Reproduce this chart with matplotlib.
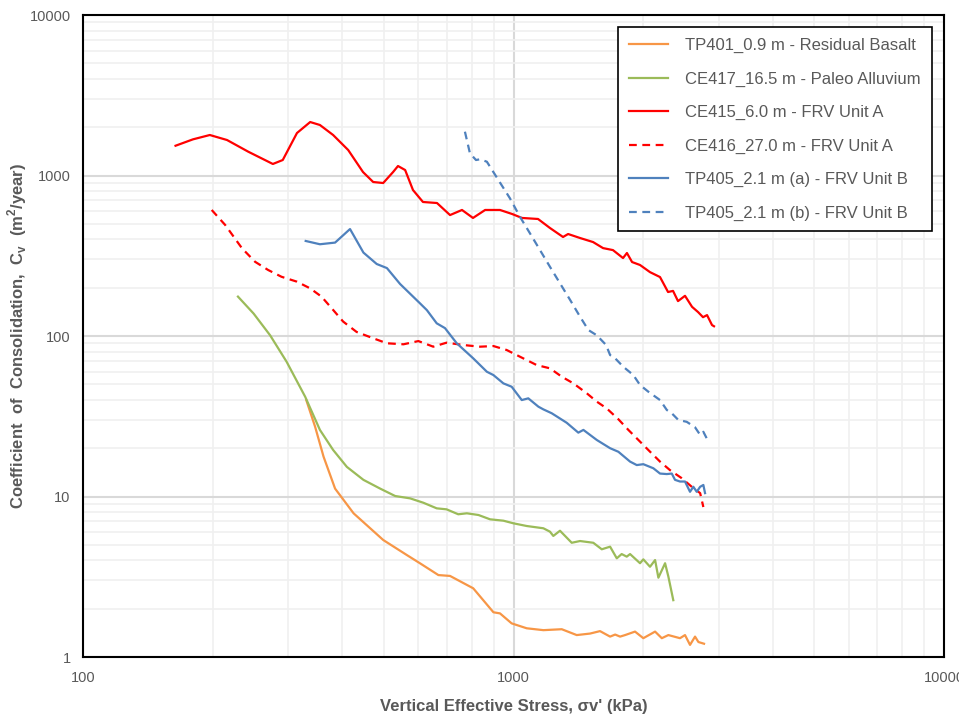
import matplotlib
matplotlib.use("Agg")
import matplotlib.pyplot as plt
from matplotlib.ticker import FixedLocator, NullFormatter, LogLocator

# TP401_0.9 m - Residual Basalt
tp401_x = [330, 346, 362, 385, 425, 498, 565, 606, 669, 712, 806, 898, 930, 990, 1073,
           1173, 1294, 1402, 1506, 1588, 1676, 1722, 1768, 1816, 1915, 2002, 2132, 2210,
           2289, 2436, 2502, 2570, 2640, 2688, 2770]
tp401_y = [39.9, 27.2, 17.7, 11.2, 7.86, 5.36, 4.32, 3.84, 3.24, 3.20, 2.68, 1.90, 1.87,
           1.62, 1.51, 1.47, 1.49, 1.37, 1.40, 1.45, 1.34, 1.38, 1.34, 1.37, 1.44, 1.31,
           1.44, 1.31, 1.37, 1.31, 1.37, 1.19, 1.34, 1.24, 1.21]

# CE417_16.5 m - Paleo Alluvium
ce417_x = [229, 249, 272, 297, 328, 355, 381, 410, 448, 490, 531, 575, 617, 663, 699,
           744, 779, 829, 882, 947, 999, 1073, 1173, 1215, 1237, 1282, 1365, 1427, 1532,
           1603, 1676, 1737, 1783, 1832, 1865, 1967, 2002, 2075, 2132, 2170, 2249, 2289, 2350]
ce417_y = [176, 138, 101, 69.2, 41.9, 26.0, 19.5, 15.3, 12.7, 11.2, 10.07, 9.74, 9.15,
           8.44, 8.32, 7.75, 7.86, 7.67, 7.21, 7.07, 6.81, 6.55, 6.34, 6.04, 5.68, 6.12,
           5.15, 5.28, 5.15, 4.69, 4.87, 4.12, 4.38, 4.22, 4.38, 3.84, 4.06, 3.65, 4.02,
           3.12, 3.84, 3.17, 2.26]

# CE415_6.0 m - FRV Unit A
ce415_x = [164, 180, 197, 216, 242, 276, 291, 314, 337, 355, 381, 413, 447, 472, 498, 525,
           539, 560, 584, 616, 664, 712, 759, 805, 859, 930, 992, 1046, 1140, 1215, 1303,
           1339, 1427, 1530, 1614, 1702, 1796, 1834, 1885, 1967, 2075, 2189, 2285, 2347,
           2410, 2502, 2598, 2683, 2755, 2815, 2891, 2922]
ce415_y = [1533, 1680, 1788, 1664, 1407, 1180, 1249, 1840, 2154, 2064, 1788, 1441, 1051, 911,
           898, 1051, 1146, 1082, 812, 684, 674, 567, 610, 544, 610, 610, 576, 544, 536,
           471, 414, 432, 408, 385, 353, 343, 306, 329, 289, 277, 250, 233, 188, 191, 165,
           178, 152, 141, 131, 135, 117, 115]

# CE416_27.0 m - FRV Unit A
ce416_x = [199, 214, 234, 251, 269, 289, 314, 337, 358, 378, 402, 432, 472, 508, 555,
           601, 651, 699, 764, 836, 898, 964, 1035, 1132, 1215, 1294, 1377, 1479, 1561,
           1646, 1752, 1848, 1950, 2056, 2189, 2309, 2459, 2594, 2713, 2760]
ce416_y = [610, 491, 352, 290, 258, 234, 218, 198, 176, 149, 123, 106, 96.8, 90.1, 88.8,
           93.0, 85.8, 90.9, 87.9, 85.8, 86.6, 81.8, 74.3, 65.9, 62.9, 55.8, 50.7, 44.0,
           39.0, 35.4, 30.3, 26.0, 22.5, 19.5, 16.5, 14.6, 13.0, 11.5, 10.5, 8.6]

# TP405_2.1 m (a) - FRV Unit B
tp405a_x = [329, 355, 385, 417, 448, 481, 508, 545, 606, 629, 663, 693, 738, 806, 867,
            898, 947, 990, 1045, 1082, 1142, 1173, 1227, 1329, 1414, 1453, 1561, 1676,
            1752, 1865, 1933, 2002, 2112, 2189, 2270, 2331, 2372, 2436, 2502, 2570, 2616,
            2664, 2713, 2760, 2785]
tp405a_y = [391, 373, 382, 464, 331, 281, 265, 211, 160, 145, 120, 112, 90.1, 72.6, 59.9,
            57.1, 50.7, 48.3, 39.9, 40.9, 36.3, 34.9, 33.0, 28.8, 25.0, 26.0, 22.5, 20.0,
            19.0, 16.5, 15.7, 15.9, 15.0, 13.9, 13.8, 13.9, 12.7, 12.4, 12.4, 10.7, 11.5,
            10.7, 11.5, 11.8, 10.5]

# TP405_2.1 m (b) - FRV Unit B
tp405b_x = [771, 792, 818, 836, 867, 922, 981, 1035, 1092, 1152, 1215, 1282, 1353, 1427,
            1492, 1561, 1640, 1676, 1722, 1799, 1898, 1967, 2056, 2189, 2270, 2331, 2414,
            2525, 2640, 2713, 2760, 2811]
tp405b_y = [1875, 1375, 1249, 1262, 1219, 938, 721, 553, 436, 343, 270, 213, 168, 132,
            109, 101, 88, 76.1, 72.6, 64.3, 57.1, 49.5, 45.0, 39.9, 34.6, 33.0, 30.0, 29.2,
            27.0, 24.2, 25.3, 23.0]

labels = ["TP401_0.9 m - Residual Basalt", "CE417_16.5 m - Paleo Alluvium",
          "CE415_6.0 m - FRV Unit A", "CE416_27.0 m - FRV Unit A",
          "TP405_2.1 m (a) - FRV Unit B", "TP405_2.1 m (b) - FRV Unit B"]

plt.rcParams['font.family'] = ['Liberation Sans', 'DejaVu Sans']
plt.rcParams['mathtext.fontset'] = 'custom'
plt.rcParams['mathtext.rm'] = 'Liberation Sans'
plt.rcParams['mathtext.bf'] = 'Liberation Sans:bold'

grey = '#595959'

fig = plt.figure(figsize=(9.59, 7.15), dpi=100)
ax = fig.add_axes([0.0866, 0.0811, 0.8978, 0.8979])

lw = 1.6
dash = (0, (3.5, 2.5))
ax.plot(tp401_x, tp401_y, color='#F79646', lw=lw, label=labels[0])
ax.plot(ce417_x, ce417_y, color='#9BBB59', lw=lw, label=labels[1])
ax.plot(ce415_x, ce415_y, color='#FF0000', lw=lw, label=labels[2])
ax.plot(ce416_x, ce416_y, color='#FF0000', lw=lw, ls=dash, label=labels[3])
ax.plot(tp405a_x, tp405a_y, color='#4F81BD', lw=lw, label=labels[4])
ax.plot(tp405b_x, tp405b_y, color='#4F81BD', lw=lw, ls=dash, label=labels[5])

ax.set_xscale('log')
ax.set_yscale('log')
ax.set_xlim(100, 10000)
ax.set_ylim(1, 10000)

ax.xaxis.set_major_locator(FixedLocator([100, 1000, 10000]))
ax.yaxis.set_major_locator(FixedLocator([1, 10, 100, 1000, 10000]))
ax.set_xticklabels(['100', '1000', '10000'])
ax.set_yticklabels(['1', '10', '100', '1000', '10000'])
ax.xaxis.set_minor_locator(LogLocator(base=10, subs=range(2, 10)))
ax.yaxis.set_minor_locator(LogLocator(base=10, subs=range(2, 10)))
ax.xaxis.set_minor_formatter(NullFormatter())
ax.yaxis.set_minor_formatter(NullFormatter())

ax.grid(True, which='major', color='#D9D9D9', lw=1.5, zorder=0)
ax.grid(True, which='minor', color='#F0F0F0', lw=1.2, zorder=0)
ax.set_axisbelow(True)

ax.tick_params(which='both', length=0, labelsize=10.5, labelcolor=grey)
ax.tick_params(axis='x', pad=10)
ax.tick_params(axis='y', pad=9)

for s in ax.spines.values():
    s.set_color('black')
    s.set_linewidth(1.5)

ax.set_xlabel("Vertical Effective Stress, \u03c3v' (kPa)", fontsize=12, fontweight='bold',
              color=grey, labelpad=10)
ax.set_ylabel(r"Coefficient  of  Consolidation,  C$_\mathbf{v}$  (m$^\mathbf{2}$/year)",
              fontsize=12, fontweight='bold', color=grey, labelpad=0)

leg = ax.legend(loc='upper right', bbox_to_anchor=(0.9855, 0.981), fontsize=12,
                frameon=True, fancybox=False, edgecolor='black', framealpha=1,
                handlelength=2.35, handletextpad=1.0, labelspacing=1.1,
                borderpad=0.65, borderaxespad=0)
leg.get_frame().set_linewidth(1.2)
for t in leg.get_texts():
    t.set_color(grey)

fig.savefig('out.png', dpi=100)
